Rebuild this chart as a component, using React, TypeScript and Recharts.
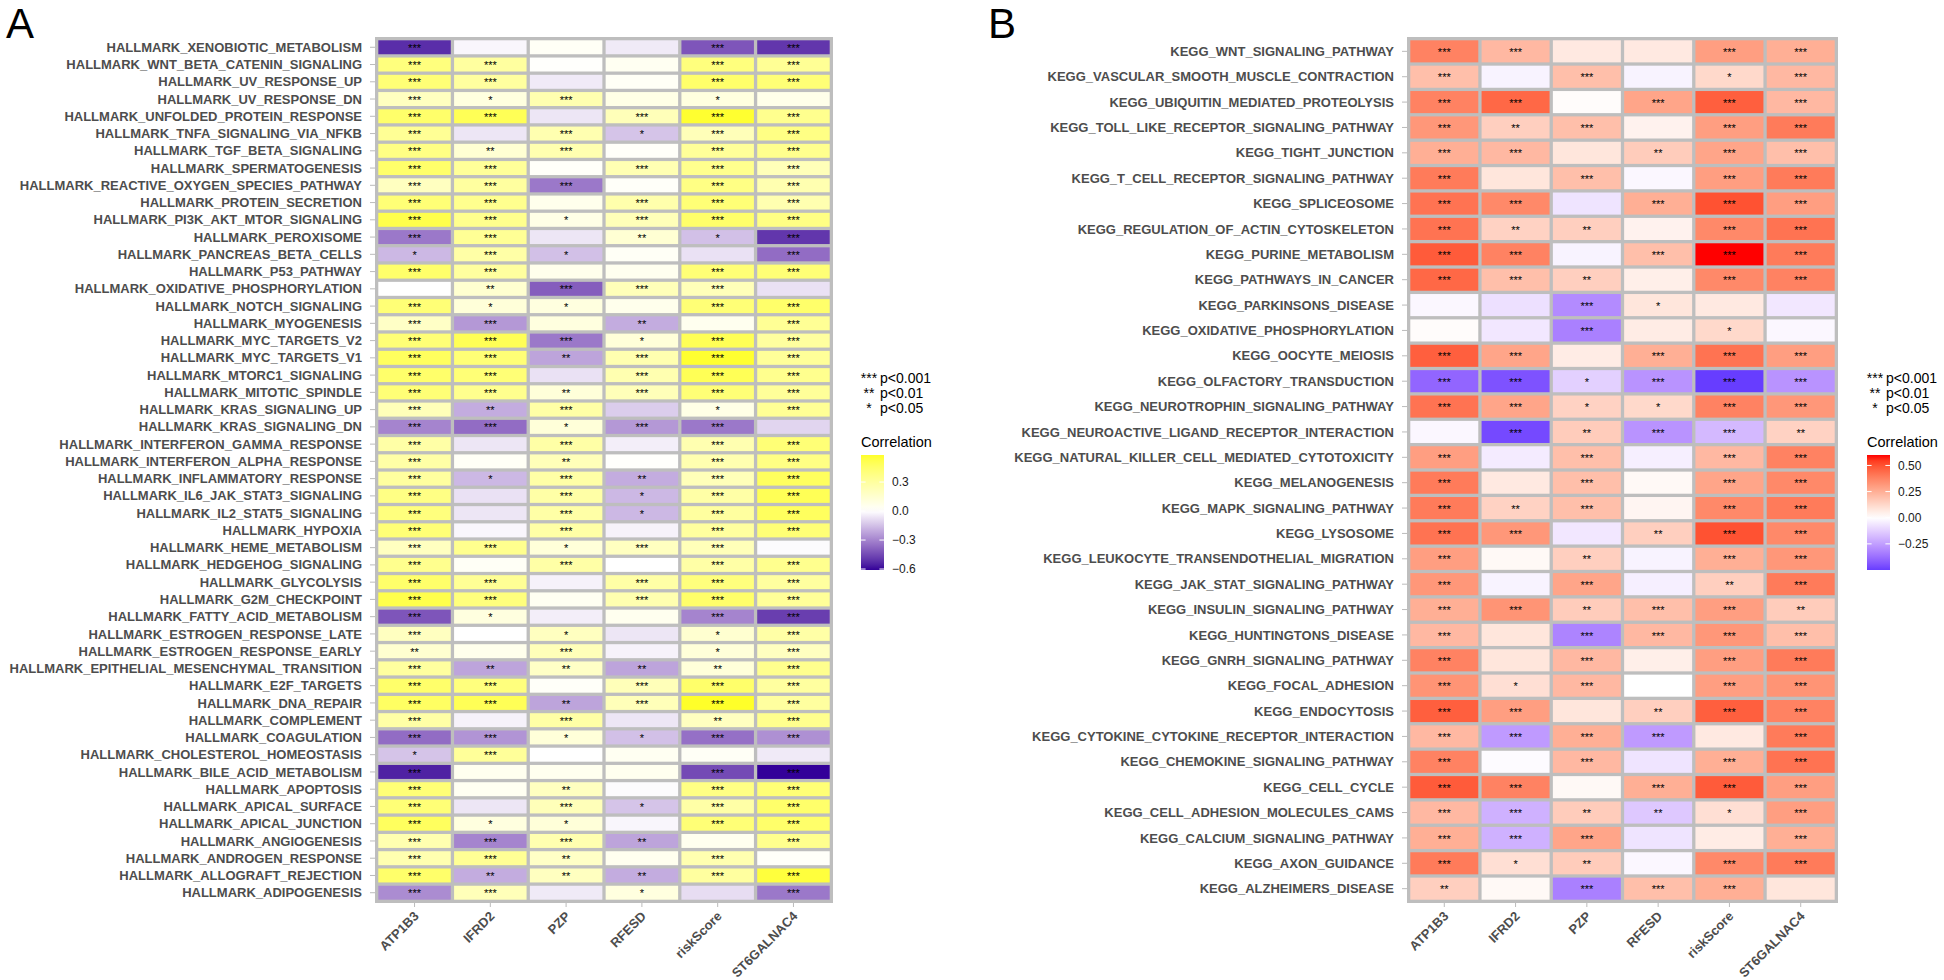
import React from "react";
import { ScatterChart, Scatter, XAxis, YAxis, CartesianGrid } from "recharts";

// ---------- data ----------
const GENES = ["ATP1B3", "IFRD2", "PZP", "RFESD", "riskScore", "ST6GALNAC4"];

const HALLMARK = [
  "HALLMARK_XENOBIOTIC_METABOLISM", "HALLMARK_WNT_BETA_CATENIN_SIGNALING", "HALLMARK_UV_RESPONSE_UP",
  "HALLMARK_UV_RESPONSE_DN", "HALLMARK_UNFOLDED_PROTEIN_RESPONSE", "HALLMARK_TNFA_SIGNALING_VIA_NFKB",
  "HALLMARK_TGF_BETA_SIGNALING", "HALLMARK_SPERMATOGENESIS", "HALLMARK_REACTIVE_OXYGEN_SPECIES_PATHWAY",
  "HALLMARK_PROTEIN_SECRETION", "HALLMARK_PI3K_AKT_MTOR_SIGNALING", "HALLMARK_PEROXISOME",
  "HALLMARK_PANCREAS_BETA_CELLS", "HALLMARK_P53_PATHWAY", "HALLMARK_OXIDATIVE_PHOSPHORYLATION",
  "HALLMARK_NOTCH_SIGNALING", "HALLMARK_MYOGENESIS", "HALLMARK_MYC_TARGETS_V2", "HALLMARK_MYC_TARGETS_V1",
  "HALLMARK_MTORC1_SIGNALING", "HALLMARK_MITOTIC_SPINDLE", "HALLMARK_KRAS_SIGNALING_UP",
  "HALLMARK_KRAS_SIGNALING_DN", "HALLMARK_INTERFERON_GAMMA_RESPONSE", "HALLMARK_INTERFERON_ALPHA_RESPONSE",
  "HALLMARK_INFLAMMATORY_RESPONSE", "HALLMARK_IL6_JAK_STAT3_SIGNALING", "HALLMARK_IL2_STAT5_SIGNALING",
  "HALLMARK_HYPOXIA", "HALLMARK_HEME_METABOLISM", "HALLMARK_HEDGEHOG_SIGNALING", "HALLMARK_GLYCOLYSIS",
  "HALLMARK_G2M_CHECKPOINT", "HALLMARK_FATTY_ACID_METABOLISM", "HALLMARK_ESTROGEN_RESPONSE_LATE",
  "HALLMARK_ESTROGEN_RESPONSE_EARLY", "HALLMARK_EPITHELIAL_MESENCHYMAL_TRANSITION", "HALLMARK_E2F_TARGETS",
  "HALLMARK_DNA_REPAIR", "HALLMARK_COMPLEMENT", "HALLMARK_COAGULATION", "HALLMARK_CHOLESTEROL_HOMEOSTASIS",
  "HALLMARK_BILE_ACID_METABOLISM", "HALLMARK_APOPTOSIS", "HALLMARK_APICAL_SURFACE", "HALLMARK_APICAL_JUNCTION",
  "HALLMARK_ANGIOGENESIS", "HALLMARK_ANDROGEN_RESPONSE", "HALLMARK_ALLOGRAFT_REJECTION", "HALLMARK_ADIPOGENESIS",
];

const A_ATP1B3 = [-0.52, 0.40, 0.42, 0.20, 0.45, 0.33, 0.38, 0.45, 0.20, 0.42, 0.52, -0.33, -0.17, 0.45, 0.00, 0.42, 0.18, 0.42, 0.48, 0.45, 0.42, 0.22, -0.30, 0.28, 0.28, 0.30, 0.38, 0.40, 0.42, 0.20, 0.35, 0.45, 0.52, -0.42, 0.20, 0.15, 0.30, 0.45, 0.47, 0.28, -0.36, -0.14, -0.55, 0.42, 0.42, 0.48, 0.25, 0.25, 0.45, -0.28];
const A_IFRD2 = [-0.02, 0.30, 0.30, 0.10, 0.50, -0.06, 0.14, 0.32, 0.30, 0.35, 0.35, 0.33, 0.28, 0.30, 0.15, 0.12, -0.25, 0.50, 0.42, 0.42, 0.35, -0.20, -0.36, -0.06, 0.03, -0.17, -0.07, -0.06, -0.02, 0.35, 0.03, 0.33, 0.40, 0.10, 0.00, 0.06, -0.22, 0.40, 0.50, -0.03, -0.26, 0.32, 0.05, 0.04, -0.06, 0.10, -0.30, 0.33, -0.20, 0.22];
const A_PZP = [0.03, 0.01, -0.05, 0.25, -0.06, 0.25, 0.25, 0.02, -0.33, 0.06, 0.08, -0.06, -0.15, 0.06, -0.40, 0.10, 0.10, -0.33, -0.22, -0.07, 0.12, 0.28, 0.12, 0.28, 0.22, 0.28, 0.28, 0.28, 0.28, 0.12, 0.28, -0.03, 0.04, -0.04, 0.20, 0.22, 0.18, 0.02, -0.22, 0.28, 0.12, 0.00, 0.05, 0.20, 0.22, 0.12, 0.25, 0.18, 0.20, -0.05];
const A_RFESD = [-0.05, 0.04, 0.03, 0.08, 0.22, -0.14, 0.02, 0.24, 0.02, 0.26, 0.22, 0.14, 0.03, 0.05, 0.22, 0.06, -0.20, 0.12, 0.25, 0.25, 0.22, -0.12, -0.25, -0.04, 0.01, -0.20, -0.17, -0.17, -0.03, 0.20, 0.00, 0.28, 0.25, 0.05, -0.06, -0.03, -0.22, 0.22, 0.22, -0.06, -0.15, 0.04, 0.05, -0.01, -0.14, -0.02, -0.22, 0.05, -0.20, 0.10];
const A_RISK = [-0.42, 0.40, 0.45, 0.10, 0.57, 0.22, 0.32, 0.35, 0.38, 0.42, 0.45, -0.15, -0.07, 0.42, 0.22, 0.42, 0.05, 0.50, 0.57, 0.50, 0.42, 0.08, -0.33, 0.25, 0.25, 0.22, 0.28, 0.30, 0.30, 0.22, 0.28, 0.40, 0.45, -0.30, 0.15, 0.12, 0.12, 0.45, 0.58, 0.20, -0.35, 0.03, -0.45, 0.38, 0.28, 0.42, 0.05, 0.25, 0.30, -0.08];
const A_ST6 = [-0.50, 0.33, 0.42, 0.07, 0.35, 0.38, 0.35, 0.22, 0.25, 0.25, 0.38, -0.50, -0.36, 0.42, -0.07, 0.45, 0.33, 0.30, 0.32, 0.35, 0.32, 0.33, -0.10, 0.42, 0.38, 0.48, 0.50, 0.48, 0.42, -0.01, 0.35, 0.30, 0.32, -0.48, 0.28, 0.20, 0.35, 0.30, 0.30, 0.35, -0.27, -0.05, -0.61, 0.42, 0.45, 0.45, 0.35, 0.02, 0.55, -0.33];

// number of significance stars
const A_ATP1B3_SIG = [3, 3, 3, 3, 3, 3, 3, 3, 3, 3, 3, 3, 1, 3, 0, 3, 3, 3, 3, 3, 3, 3, 3, 3, 3, 3, 3, 3, 3, 3, 3, 3, 3, 3, 3, 2, 3, 3, 3, 3, 3, 1, 3, 3, 3, 3, 3, 3, 3, 3];
const A_IFRD2_SIG = [0, 3, 3, 1, 3, 0, 2, 3, 3, 3, 3, 3, 3, 3, 2, 1, 3, 3, 3, 3, 3, 2, 3, 0, 0, 1, 0, 0, 0, 3, 0, 3, 3, 1, 0, 0, 2, 3, 3, 0, 3, 3, 0, 0, 0, 1, 3, 3, 2, 3];
const A_PZP_SIG = [0, 0, 0, 3, 0, 3, 3, 0, 3, 0, 1, 0, 1, 0, 3, 1, 0, 3, 2, 0, 2, 3, 1, 3, 2, 3, 3, 3, 3, 1, 3, 0, 0, 0, 1, 3, 2, 0, 2, 3, 1, 0, 0, 2, 3, 1, 3, 2, 2, 0];
const A_RFESD_SIG = [0, 0, 0, 0, 3, 1, 0, 3, 0, 3, 3, 2, 0, 0, 3, 0, 2, 1, 3, 3, 3, 0, 3, 0, 0, 2, 1, 1, 0, 3, 0, 3, 3, 0, 0, 0, 2, 3, 3, 0, 1, 0, 0, 0, 1, 0, 2, 0, 2, 1];
const A_RISK_SIG = [3, 3, 3, 1, 3, 3, 3, 3, 3, 3, 3, 1, 0, 3, 3, 3, 0, 3, 3, 3, 3, 1, 3, 3, 3, 3, 3, 3, 3, 3, 3, 3, 3, 3, 1, 1, 2, 3, 3, 2, 3, 0, 3, 3, 3, 3, 0, 3, 3, 0];
const A_ST6_SIG = [3, 3, 3, 0, 3, 3, 3, 3, 3, 3, 3, 3, 3, 3, 0, 3, 3, 3, 3, 3, 3, 3, 0, 3, 3, 3, 3, 3, 3, 0, 3, 3, 3, 3, 3, 3, 3, 3, 3, 3, 3, 0, 3, 3, 3, 3, 3, 0, 3, 3];

const KEGG = [
  "KEGG_WNT_SIGNALING_PATHWAY", "KEGG_VASCULAR_SMOOTH_MUSCLE_CONTRACTION", "KEGG_UBIQUITIN_MEDIATED_PROTEOLYSIS",
  "KEGG_TOLL_LIKE_RECEPTOR_SIGNALING_PATHWAY", "KEGG_TIGHT_JUNCTION", "KEGG_T_CELL_RECEPTOR_SIGNALING_PATHWAY",
  "KEGG_SPLICEOSOME", "KEGG_REGULATION_OF_ACTIN_CYTOSKELETON", "KEGG_PURINE_METABOLISM", "KEGG_PATHWAYS_IN_CANCER",
  "KEGG_PARKINSONS_DISEASE", "KEGG_OXIDATIVE_PHOSPHORYLATION", "KEGG_OOCYTE_MEIOSIS", "KEGG_OLFACTORY_TRANSDUCTION",
  "KEGG_NEUROTROPHIN_SIGNALING_PATHWAY", "KEGG_NEUROACTIVE_LIGAND_RECEPTOR_INTERACTION",
  "KEGG_NATURAL_KILLER_CELL_MEDIATED_CYTOTOXICITY", "KEGG_MELANOGENESIS", "KEGG_MAPK_SIGNALING_PATHWAY",
  "KEGG_LYSOSOME", "KEGG_LEUKOCYTE_TRANSENDOTHELIAL_MIGRATION", "KEGG_JAK_STAT_SIGNALING_PATHWAY",
  "KEGG_INSULIN_SIGNALING_PATHWAY", "KEGG_HUNTINGTONS_DISEASE", "KEGG_GNRH_SIGNALING_PATHWAY", "KEGG_FOCAL_ADHESION",
  "KEGG_ENDOCYTOSIS", "KEGG_CYTOKINE_CYTOKINE_RECEPTOR_INTERACTION", "KEGG_CHEMOKINE_SIGNALING_PATHWAY",
  "KEGG_CELL_CYCLE", "KEGG_CELL_ADHESION_MOLECULES_CAMS", "KEGG_CALCIUM_SIGNALING_PATHWAY", "KEGG_AXON_GUIDANCE",
  "KEGG_ALZHEIMERS_DISEASE",
];

const B_ATP1B3 = [0.38, 0.20, 0.38, 0.32, 0.25, 0.40, 0.42, 0.42, 0.48, 0.45, -0.02, 0.01, 0.47, -0.40, 0.42, -0.02, 0.30, 0.40, 0.40, 0.42, 0.30, 0.32, 0.25, 0.22, 0.38, 0.33, 0.47, 0.22, 0.38, 0.48, 0.22, 0.25, 0.40, 0.15];
const B_IFRD2 = [0.22, -0.03, 0.45, 0.15, 0.22, 0.08, 0.36, 0.14, 0.38, 0.20, -0.08, -0.06, 0.28, -0.45, 0.28, -0.47, -0.05, 0.07, 0.14, 0.32, 0.02, -0.03, 0.33, 0.08, 0.08, 0.10, 0.30, -0.26, -0.01, 0.38, -0.20, -0.20, 0.10, 0.02];
const B_PZP = [0.07, 0.20, 0.01, 0.20, 0.08, 0.20, -0.07, 0.15, -0.03, 0.15, -0.30, -0.33, 0.06, -0.12, 0.14, 0.16, 0.20, 0.20, 0.20, -0.06, 0.15, 0.28, 0.16, -0.32, 0.22, 0.22, 0.08, 0.25, 0.22, 0.02, 0.16, 0.28, 0.16, -0.33];
const B_RFESD = [0.07, -0.03, 0.28, 0.04, 0.16, -0.02, 0.25, 0.04, 0.20, 0.05, 0.08, 0.06, 0.25, -0.28, 0.12, -0.28, -0.04, 0.02, 0.03, 0.15, -0.03, -0.04, 0.20, 0.22, 0.05, 0.00, 0.15, -0.26, -0.07, 0.25, -0.14, -0.07, -0.02, 0.20];
const B_RISK = [0.30, 0.12, 0.47, 0.30, 0.28, 0.30, 0.50, 0.36, 0.60, 0.36, 0.07, 0.12, 0.42, -0.50, 0.38, -0.18, 0.22, 0.28, 0.36, 0.50, 0.25, 0.15, 0.30, 0.32, 0.30, 0.30, 0.47, 0.07, 0.25, 0.48, 0.10, 0.06, 0.36, 0.25];
const B_ST6 = [0.25, 0.22, 0.22, 0.40, 0.20, 0.40, 0.30, 0.42, 0.40, 0.38, -0.06, -0.02, 0.30, -0.28, 0.32, 0.14, 0.38, 0.36, 0.40, 0.36, 0.32, 0.40, 0.16, 0.20, 0.40, 0.33, 0.38, 0.40, 0.42, 0.30, 0.30, 0.25, 0.40, 0.08];

const B_ATP1B3_SIG = [3, 3, 3, 3, 3, 3, 3, 3, 3, 3, 0, 0, 3, 3, 3, 0, 3, 3, 3, 3, 3, 3, 3, 3, 3, 3, 3, 3, 3, 3, 3, 3, 3, 2];
const B_IFRD2_SIG = [3, 0, 3, 2, 3, 0, 3, 2, 3, 3, 0, 0, 3, 3, 3, 3, 0, 0, 2, 3, 0, 0, 3, 0, 0, 1, 3, 3, 0, 3, 3, 3, 1, 0];
const B_PZP_SIG = [0, 3, 0, 3, 0, 3, 0, 2, 0, 2, 3, 3, 0, 1, 1, 2, 3, 3, 3, 0, 2, 3, 2, 3, 3, 3, 0, 3, 3, 0, 2, 3, 2, 3];
const B_RFESD_SIG = [0, 0, 3, 0, 2, 0, 3, 0, 3, 0, 1, 0, 3, 3, 1, 3, 0, 0, 0, 2, 0, 0, 3, 3, 0, 0, 2, 3, 0, 3, 2, 0, 0, 3];
const B_RISK_SIG = [3, 1, 3, 3, 3, 3, 3, 3, 3, 3, 0, 1, 3, 3, 3, 3, 3, 3, 3, 3, 3, 2, 3, 3, 3, 3, 3, 0, 3, 3, 1, 0, 3, 3];
const B_ST6_SIG = [3, 3, 3, 3, 3, 3, 3, 3, 3, 3, 0, 0, 3, 3, 3, 2, 3, 3, 3, 3, 3, 3, 2, 3, 3, 3, 3, 3, 3, 3, 3, 3, 3, 0];

const A_LEGEND_TICKS = [0.3, 0.0, -0.3, -0.6];
const A_LEGEND_LABELS = ["0.3", "0.0", "\u22120.3", "\u22120.6"];
const B_LEGEND_TICKS = [0.5, 0.25, 0.0, -0.25];
const B_LEGEND_LABELS = ["0.50", "0.25", "0.00", "\u22120.25"];
const SIG_KEYS = ["***", "**", "*"];
const SIG_TEXT = ["p<0.001", "p<0.01", "p<0.05"];

// ---------- helpers ----------
type Cell = { x: number; y: number; value: number; sig: string };

function buildCells(rows: string[], cols: number[][], sigs: number[][]): Cell[] {
  const out: Cell[] = [];
  rows.forEach((_, r) =>
    cols.forEach((col, c) => out.push({ x: c, y: r, value: col[r], sig: "*".repeat(sigs[c][r]) }))
  );
  return out;
}

function hexToRgb(hex: string): number[] {
  const n = parseInt(hex.slice(1), 16);
  return [(n >> 16) & 255, (n >> 8) & 255, n & 255];
}
const toLin = (c: number) => {
  const v = c / 255;
  return v <= 0.04045 ? v / 12.92 : Math.pow((v + 0.055) / 1.055, 2.4);
};
const fromLin = (v: number) => {
  const s = v <= 0.0031308 ? 12.92 * v : 1.055 * Math.pow(v, 1 / 2.4) - 0.055;
  return Math.round(Math.min(1, Math.max(0, s)) * 255);
};
const XN = 0.95047, YN = 1.0, ZN = 1.08883;
function rgbToLab(rgb: number[]): number[] {
  const [r, g, b] = rgb.map(toLin);
  const X = (0.4124564 * r + 0.3575761 * g + 0.1804375 * b) / XN;
  const Y = (0.2126729 * r + 0.7151522 * g + 0.072175 * b) / YN;
  const Z = (0.0193339 * r + 0.119192 * g + 0.9503041 * b) / ZN;
  const f = (t: number) => (t > 216 / 24389 ? Math.cbrt(t) : ((24389 / 27) * t + 16) / 116);
  const fx = f(X), fy = f(Y), fz = f(Z);
  return [116 * fy - 16, 500 * (fx - fy), 200 * (fy - fz)];
}
function labToHex(lab: number[]): string {
  const [L, a, bb] = lab;
  const fy = (L + 16) / 116;
  const fx = fy + a / 500;
  const fz = fy - bb / 200;
  const inv = (t: number) => (t * t * t > 216 / 24389 ? t * t * t : (116 * t - 16) / (24389 / 27));
  const X = inv(fx) * XN, Y = inv(fy) * YN, Z = inv(fz) * ZN;
  const r = 3.2404542 * X - 1.5371385 * Y - 0.4985314 * Z;
  const g = -0.969266 * X + 1.8760108 * Y + 0.041556 * Z;
  const b = 0.0556434 * X - 0.2040259 * Y + 1.0572252 * Z;
  const h = (v: number) => fromLin(v).toString(16).padStart(2, "0");
  return "#" + h(r) + h(g) + h(b);
}
function makeDiverging(low: string, mid: string, high: string, maxAbs: number) {
  const [l, m, hi] = [low, mid, high].map((c) => rgbToLab(hexToRgb(c)));
  return (v: number) => {
    const t = Math.max(0, Math.min(1, v / maxAbs / 2 + 0.5));
    const from = t < 0.5 ? l : m;
    const to = t < 0.5 ? m : hi;
    const s = t < 0.5 ? t / 0.5 : (t - 0.5) / 0.5;
    return labToHex(from.map((f, i) => f + (to[i] - f) * s));
  };
}

const CELLS_A = buildCells(HALLMARK, [A_ATP1B3, A_IFRD2, A_PZP, A_RFESD, A_RISK, A_ST6],
  [A_ATP1B3_SIG, A_IFRD2_SIG, A_PZP_SIG, A_RFESD_SIG, A_RISK_SIG, A_ST6_SIG]);
const CELLS_B = buildCells(KEGG, [B_ATP1B3, B_IFRD2, B_PZP, B_RFESD, B_RISK, B_ST6],
  [B_ATP1B3_SIG, B_IFRD2_SIG, B_PZP_SIG, B_RFESD_SIG, B_RISK_SIG, B_ST6_SIG]);

const rangeOf = (cells: Cell[]) => {
  const vals = cells.map((c) => c.value);
  return [Math.min(...vals), Math.max(...vals)];
};
const RANGE_A = rangeOf(CELLS_A);
const RANGE_B = rangeOf(CELLS_B);
const colorA = makeDiverging("#330099", "#FFFFFF", "#FFFF00", Math.max(Math.abs(RANGE_A[0]), Math.abs(RANGE_A[1])));
const colorB = makeDiverging("#0000FF", "#FFFFFF", "#FF0000", Math.max(Math.abs(RANGE_B[0]), Math.abs(RANGE_B[1])));

const FONT = "'Liberation Sans', Arial, Helvetica, sans-serif";
const LABEL_COLOR = "#4D4D4D";
const PLOT_TOP = 37;
const PLOT_H = 866;
const X_AXIS_H = 60;
const BOTTOM_MARGIN = 980 - PLOT_TOP - PLOT_H - X_AXIS_H;
const PAD = 1.65;

type HeatProps = {
  left: number;
  width: number;
  yAxisWidth: number;
  plotW: number;
  rows: string[];
  cells: Cell[];
  color: (v: number) => string;
};

function Heatmap({ left, width, yAxisWidth, plotW, rows, cells, color }: HeatProps) {
  const rightMargin = width - yAxisWidth - plotW;
  const cellW = (plotW - 2 * PAD) / GENES.length - 2 * PAD;
  const cellH = (PLOT_H - 2 * PAD) / rows.length - 2 * PAD;

  const renderCell = (p: any) => {
    const { cx, cy, payload } = p;
    if (cx == null || cy == null) return <g />;
    return (
      <g>
        <rect x={cx - cellW / 2} y={cy - cellH / 2} width={cellW} height={cellH} fill={color(payload.value)} />
        {payload.sig ? (
          <text x={cx} y={cy + 4.6} textAnchor="middle" fontSize={11} fill="#000" fontFamily={FONT}>
            {payload.sig}
          </text>
        ) : null}
      </g>
    );
  };

  const renderYTick = (p: any) => (
    <text x={p.x} y={p.y} dy={4.6} textAnchor="end" fontSize={13} fontWeight="bold" fill={LABEL_COLOR} fontFamily={FONT}>
      {rows[p.payload.value]}
    </text>
  );

  const renderXTick = (p: any) => {
    const ax = p.x + 5;
    const ay = p.y + 8;
    return (
      <text x={ax} y={ay} transform={`rotate(-45 ${ax} ${ay})`} textAnchor="end" fontSize={13} fontWeight="bold"
        fill={LABEL_COLOR} fontFamily={FONT}>
        {GENES[p.payload.value]}
      </text>
    );
  };

  return (
    <div style={{ position: "absolute", left, top: 0 }}>
      <ScatterChart width={width} height={980}
        margin={{ top: PLOT_TOP, right: rightMargin, bottom: BOTTOM_MARGIN, left: 0 }}>
        <CartesianGrid fill="#BEBEBE" stroke="#BEBEBE" horizontal={false} vertical={false} />
        <XAxis type="number" dataKey="x" domain={[-0.5, GENES.length - 0.5]} allowDataOverflow
          ticks={GENES.map((_, i) => i)} interval={0} padding={{ left: PAD, right: PAD }} height={X_AXIS_H}
          axisLine={false} tickLine={{ stroke: "#BBBBBB" }} tickSize={4} tickMargin={2} tick={renderXTick} />
        <YAxis type="number" dataKey="y" reversed domain={[-0.5, rows.length - 0.5]} allowDataOverflow
          ticks={rows.map((_, i) => i)} interval={0} padding={{ top: PAD, bottom: PAD }} width={yAxisWidth}
          axisLine={false} tickLine={{ stroke: "#BBBBBB" }} tickSize={5} tickMargin={8} tick={renderYTick} />
        <Scatter data={cells} shape={renderCell} isAnimationActive={false} />
      </ScatterChart>
    </div>
  );
}

function Legend({ x, id, range, color, ticks, labels }: {
  x: number; id: string; range: number[]; color: (v: number) => string; ticks: number[]; labels: string[];
}) {
  const barTop = 455, barH = 115, barW = 23;
  const [min, max] = range;
  const pos = (v: number) => barTop + barH - ((v - min) / (max - min)) * barH;
  const stops = Array.from({ length: 21 }, (_, i) => i / 20);
  return (
    <g fontFamily={FONT}>
      {SIG_KEYS.map((k, i) => (
        <g key={k}>
          <text x={x + 8} y={383 + i * 15} textAnchor="middle" fontSize={14} fill="#000">{k}</text>
          <text x={x + 19} y={383 + i * 15} fontSize={14} fill="#000">{SIG_TEXT[i]}</text>
        </g>
      ))}
      <text x={x} y={447} fontSize={14.5} fill="#000">Correlation</text>
      <defs>
        <linearGradient id={id} x1="0" y1="0" x2="0" y2="1">
          {stops.map((s) => (
            <stop key={s} offset={s} stopColor={color(max - s * (max - min))} />
          ))}
        </linearGradient>
      </defs>
      <rect x={x} y={barTop} width={barW} height={barH} fill={`url(#${id})`} />
      {ticks.map((t, i) => (
        <g key={t}>
          <line x1={x} x2={x + 4.6} y1={pos(t)} y2={pos(t)} stroke="#fff" strokeWidth={1} />
          <line x1={x + barW - 4.6} x2={x + barW} y1={pos(t)} y2={pos(t)} stroke="#fff" strokeWidth={1} />
          <text x={x + 31} y={pos(t) + 4.2} fontSize={12} fill="#1a1a1a">{labels[i]}</text>
        </g>
      ))}
    </g>
  );
}

export default function App() {
  return (
    <div style={{ position: "absolute", left: 0, top: 0, width: 1944, height: 980, background: "#fff",
      overflow: "hidden", fontFamily: FONT }}>
      <Heatmap left={0} width={980} yAxisWidth={375} plotW={458} rows={HALLMARK} cells={CELLS_A} color={colorA} />
      <Heatmap left={980} width={964} yAxisWidth={427} plotW={431} rows={KEGG} cells={CELLS_B} color={colorB} />
      <svg width={1944} height={980} style={{ position: "absolute", left: 0, top: 0, pointerEvents: "none" }}>
        <text x={6} y={38} fontSize={42} fill="#000" fontFamily={FONT}>A</text>
        <text x={988} y={38} fontSize={42} fill="#000" fontFamily={FONT}>B</text>
        <Legend x={861} id="gradA" range={RANGE_A} color={colorA} ticks={A_LEGEND_TICKS} labels={A_LEGEND_LABELS} />
        <Legend x={1867} id="gradB" range={RANGE_B} color={colorB} ticks={B_LEGEND_TICKS} labels={B_LEGEND_LABELS} />
      </svg>
    </div>
  );
}
